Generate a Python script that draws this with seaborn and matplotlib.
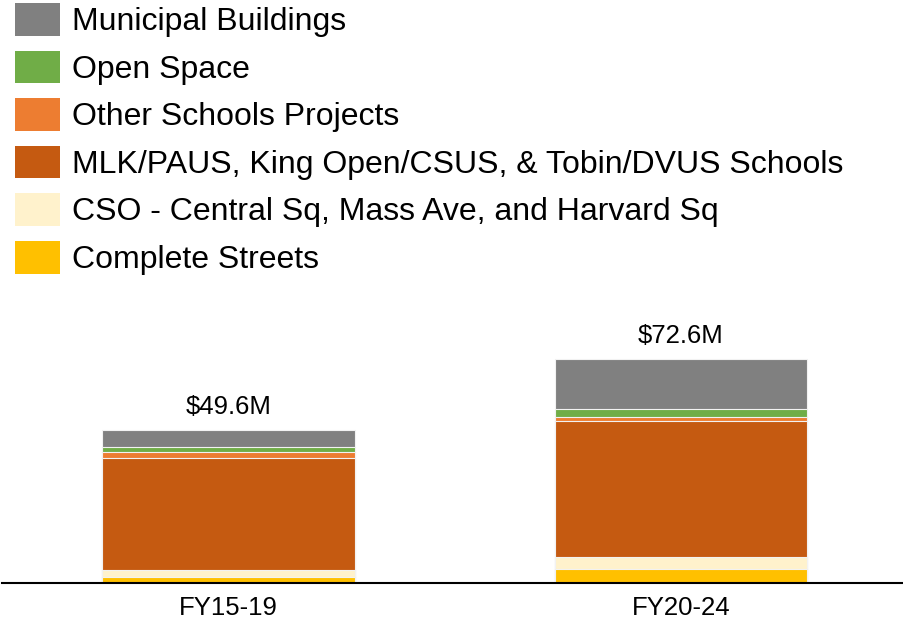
import matplotlib
matplotlib.use("Agg")
import matplotlib.pyplot as plt
from matplotlib.patches import Patch
import numpy as np
import pandas as pd
import seaborn as sns

periods = ["FY15-19", "FY20-24"]

# stacking order, bottom to top
categories = [
    "Complete Streets",
    "CSO - Central Sq, Mass Ave, and Harvard Sq",
    "MLK/PAUS, King Open/CSUS, & Tobin/DVUS Schools",
    "Other Schools Projects",
    "Open Space",
    "Municipal Buildings",
]
colors = ["#FFC000", "#FFF2CC", "#C55A11", "#ED7D31", "#70AD47", "#808080"]

complete_streets = [2.0, 4.7]
cso = [2.3, 3.9]
mlk_king_tobin = [36.2, 44.1]
other_schools = [2.2, 1.2]
open_space = [1.5, 2.5]
municipal = [5.4, 16.2]

totals = [49.6, 72.6]

sns.set_theme(style="white")
plt.rcParams["font.family"] = ["Liberation Sans", "DejaVu Sans"]
plt.rcParams["text.color"] = "black"

fig = plt.figure(figsize=(9.04, 6.2), dpi=100)
ax = fig.add_axes([2 / 904, (620 - 583.3) / 620, 902 / 904, 283.3 / 620])

series = [complete_streets, cso, mlk_king_tobin, other_schools, open_space, municipal]
df = pd.DataFrame({"period": periods})
running = np.zeros(len(periods))
for name, vals in zip(categories, series):
    running = running + np.array(vals)
    df[name] = running

# draw tallest cumulative layer first so lower segments sit on top
for name, col in reversed(list(zip(categories, colors))):
    sns.barplot(data=df, x="period", y=name, color=col, width=0.557,
                edgecolor="#f2f2f2", linewidth=0.8, saturation=1, ax=ax)

for i, t in enumerate(totals):
    ax.annotate(f"${t}M", (i, t), xytext=(0, 8), textcoords="offset points",
                ha="center", va="bottom", fontsize=18.5, color="black")

ax.set_xlim(-0.5006, 1.493)
ax.set_ylim(0, 91.8)
ax.set_xlabel("")
ax.set_ylabel("")
ax.set_yticks([])
ax.tick_params(axis="x", length=0, pad=9, labelsize=18.5, colors="black")
for s in ["top", "right", "left"]:
    ax.spines[s].set_visible(False)
ax.spines["bottom"].set_color("black")
ax.spines["bottom"].set_linewidth(1.5)
ax.patch.set_alpha(0)

handles = [Patch(facecolor=c, edgecolor="none", label=n)
           for n, c in reversed(list(zip(categories, colors)))]
leg = fig.legend(handles=handles, loc="upper left", bbox_to_anchor=(15 / 904, 1 - 3 / 620),
                 frameon=False, fontsize=23, handlelength=1.41, handleheight=1.2,
                 handletextpad=0.38, labelspacing=0.42, borderpad=0, borderaxespad=0)
for txt in leg.get_texts():
    txt.set_color("black")

fig.savefig("out.png", dpi=100)
